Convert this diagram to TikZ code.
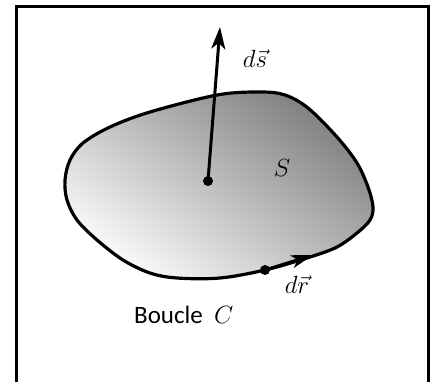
\documentclass[tikz,border=0pt]{standalone}
\usepackage{fontspec}
\setmainfont{Carlito}
\usetikzlibrary{arrows.meta}
\begin{document}
\begin{tikzpicture}[x=1pt,y=-1pt,
  blob/.style={line width=3.2pt, line join=round},
  vec/.style={line width=3pt, -{Stealth[length=22pt,width=14pt,inset=6pt]}},
  dotnode/.style={circle, fill=black, inner sep=0pt, minimum size=10pt},
  lbl/.style={font=\fontsize{25}{30}\selectfont, inner sep=0pt}]
\useasboundingbox (0,0) rectangle (435,381);
\clip (0,0) rectangle (435,381);
\fill[white] (0,0) rectangle (435,381);
\draw[line width=3pt] (16,400) -- (16,6) -- (428,6) -- (428,400);
\def\blobpts{(65,180) (70,160) (83,143) (110,127) (150,112) (217,95) (260,92) (285,95) (308,108) (337,137) (357,163) (368,187) (373,207) (370,220) (357,233) (337,247) (310,257) (265,270) (220,278) (177,278) (150,273) (123,260) (97,240) (77,220) (67,200)}
\path[left color=black!50, right color=black!2, shading angle=-35]
  plot[smooth cycle, tension=0.55] coordinates {\blobpts};
\draw[blob]
  plot[smooth cycle, tension=0.55] coordinates {\blobpts};
\node[dotnode] (c) at (208,181) {};
\coordinate (ts) at (220,27);
\draw[vec] (c.center) -- (ts);
\node[dotnode] (p) at (265,270) {};
\coordinate (tr) at (313,255);
\draw[vec, -{Stealth[length=22pt,width=13pt,inset=6pt]}] (p.center) -- (tr);
\node[lbl] (ds) at (255,59) {$d\vec{s}$};
\node[lbl] (S) at (282,168) {$S$};
\node[lbl] (dr) at (297,285) {$d\vec{r}$};
\node[lbl, anchor=base west] (bc) at (134,323) {Boucle\ \ $C$};
\end{tikzpicture}
\end{document}
